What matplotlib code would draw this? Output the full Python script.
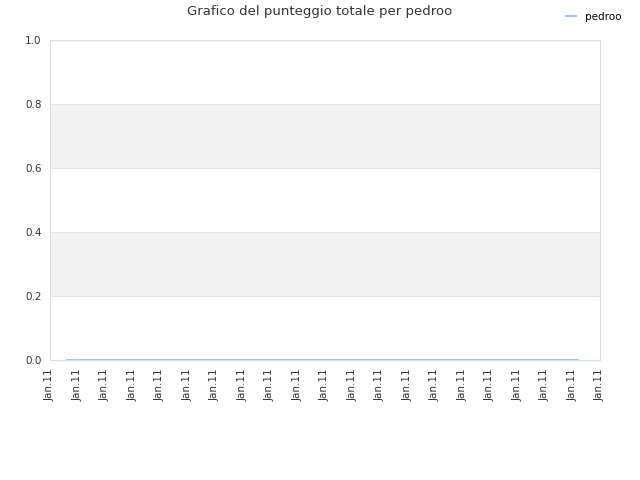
import matplotlib

matplotlib.use("Agg")
import matplotlib.pyplot as plt

# data
tick_pos = list(range(21))
tick_labels = ["Jan.11"] * 21
line_x = [0.6, 19.2]
line_y = [0.0, 0.0]
y_ticks = [0.0, 0.2, 0.4, 0.6, 0.8, 1.0]

fig = plt.figure(figsize=(6.4, 4.8), dpi=100)
ax = fig.add_axes([50 / 640, 120 / 480, 550 / 640, 320 / 480])

for lo, hi in [(0.2, 0.4), (0.6, 0.8)]:
    ax.axhspan(lo, hi, color="#f2f2f2", zorder=0, lw=0)
for y in y_ticks:
    ax.axhline(y, color="#e4e4e4", lw=0.8, zorder=1)

ax.plot(line_x, line_y, color="#9cc4ee", lw=1.4, label="pedroo", zorder=3)

ax.set_xlim(0, 20)
ax.set_ylim(0, 1)
ax.set_xticks(tick_pos)
ax.set_xticklabels(tick_labels, rotation=90, fontsize=7.5, color="#333333")
ax.set_yticks(y_ticks)
ax.set_yticklabels([f"{v:.1f}" for v in y_ticks], fontsize=7.5, color="#333333")
ax.tick_params(length=0, pad=6)
for s in ax.spines.values():
    s.set_color("#dddddd")
    s.set_linewidth(0.8)

fig.text(0.5, 1 - 12 / 480, "Grafico del punteggio totale per pedroo",
         ha="center", va="center", fontsize=9.5, color="#333333")
fig.legend(loc="upper right", bbox_to_anchor=(0.985, 0.995), frameon=False,
           fontsize=7.5, handlelength=1.0)

fig.savefig("out.png", dpi=100)
